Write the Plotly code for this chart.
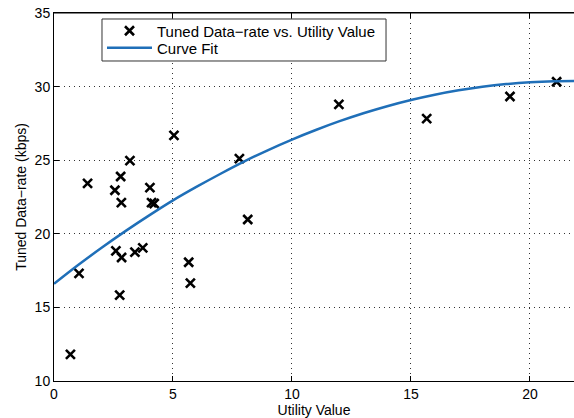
import plotly.graph_objects as go

# Scatter data: Utility Value vs Tuned Data-rate (kbps)
utility = [0.69, 1.05, 1.41, 2.56, 2.60, 2.80, 2.83, 2.76, 2.84, 3.19, 3.40, 3.73,
           4.03, 4.10, 4.21, 5.04, 5.66, 5.73, 7.79, 8.14, 11.97, 15.66, 19.16, 21.12]
data_rate = [11.81, 17.31, 23.43, 22.96, 18.84, 23.89, 22.12, 15.83, 18.39, 24.97, 18.75, 19.04,
             23.14, 22.12, 22.06, 26.69, 18.07, 16.65, 25.11, 20.97, 28.79, 27.82, 29.33, 30.33]

# Curve fit
fit_x = [0, 1, 2, 3, 4, 5, 6, 7, 8, 9, 10, 11, 12, 13, 14, 15, 16, 17, 18, 19, 20, 21, 22]
fit_y = [16.60, 17.86, 19.05, 20.18, 21.25, 22.27, 23.20, 24.08, 24.92, 25.69, 26.40,
         27.05, 27.65, 28.19, 28.67, 29.09, 29.45, 29.75, 29.99, 30.17, 30.29, 30.36, 30.38]

x_ticks = [0, 5, 10, 15, 20]
y_ticks = [10, 15, 20, 25, 30, 35]

FONT = "Liberation Sans, Arial, Helvetica, sans-serif"

fig = go.Figure()
fig.add_trace(go.Scatter(
    x=utility, y=data_rate, mode="markers",
    name="Tuned Data\u2212rate vs. Utility Value", legend="legend",
    marker=dict(symbol="x-thin", size=9, color="black",
                line=dict(color="black", width=2.6)),
))
fig.add_trace(go.Scatter(
    x=fit_x, y=fit_y, mode="lines", name="Curve Fit", legend="legend2",
    line=dict(color="#1f6fb8", width=2.5, shape="spline"),
))

legend_common = dict(
    xanchor="left", yanchor="middle", borderwidth=0, bgcolor="rgba(0,0,0,0)",
    font=dict(family=FONT, size=15, color="black"), itemwidth=45,
)

fig.update_layout(
    width=574, height=418,
    margin=dict(l=54, r=0, t=13, b=37, autoexpand=False),
    paper_bgcolor="white", plot_bgcolor="white",
    font=dict(family=FONT, size=14, color="black"),
    showlegend=True,
    legend=dict(x=0.0923, y=0.951, **legend_common),
    legend2=dict(x=0.0923, y=0.905, **legend_common),
    shapes=[
        dict(type="rect", xref="paper", yref="paper",
             x0=0.0923, x1=0.6385, y0=0.8696, y1=0.9837,
             line=dict(color="#333333", width=1), fillcolor="white",
             layer="above"),
        dict(type="line", xref="paper", yref="paper",
             x0=0, x1=1, y0=1, y1=1,
             line=dict(color="black", width=1), layer="above"),
    ],
    xaxis=dict(
        range=[0, 21.85], tickvals=x_ticks, ticktext=[str(v) for v in x_ticks],
        showline=True, linecolor="black", linewidth=1, mirror="ticks",
        ticks="inside", ticklen=5, tickcolor="black",
        showgrid=True, gridcolor="#333333", griddash="1px,4px", gridwidth=1,
        zeroline=False, automargin=False, ticklabeloverflow="allow",
        tickfont=dict(size=14),
        title=dict(text="Utility Value", standoff=0, font=dict(size=14)),
    ),
    yaxis=dict(
        range=[10, 35], tickvals=y_ticks, ticktext=[str(v) for v in y_ticks],
        showline=True, linecolor="black", linewidth=1, mirror=False,
        ticks="inside", ticklen=5, tickcolor="black",
        showgrid=True, gridcolor="#333333", griddash="1px,4px", gridwidth=1,
        zeroline=False, automargin=False, ticklabeloverflow="allow",
        tickfont=dict(size=14),
        title=dict(text="Tuned Data\u2212rate (kbps)", standoff=4, font=dict(size=14)),
    ),
)

fig.write_html("out.html",
               config={"displayModeBar": False},
               post_script="document.body.style.margin='0';"
                           "document.body.style.overflow='hidden';")
